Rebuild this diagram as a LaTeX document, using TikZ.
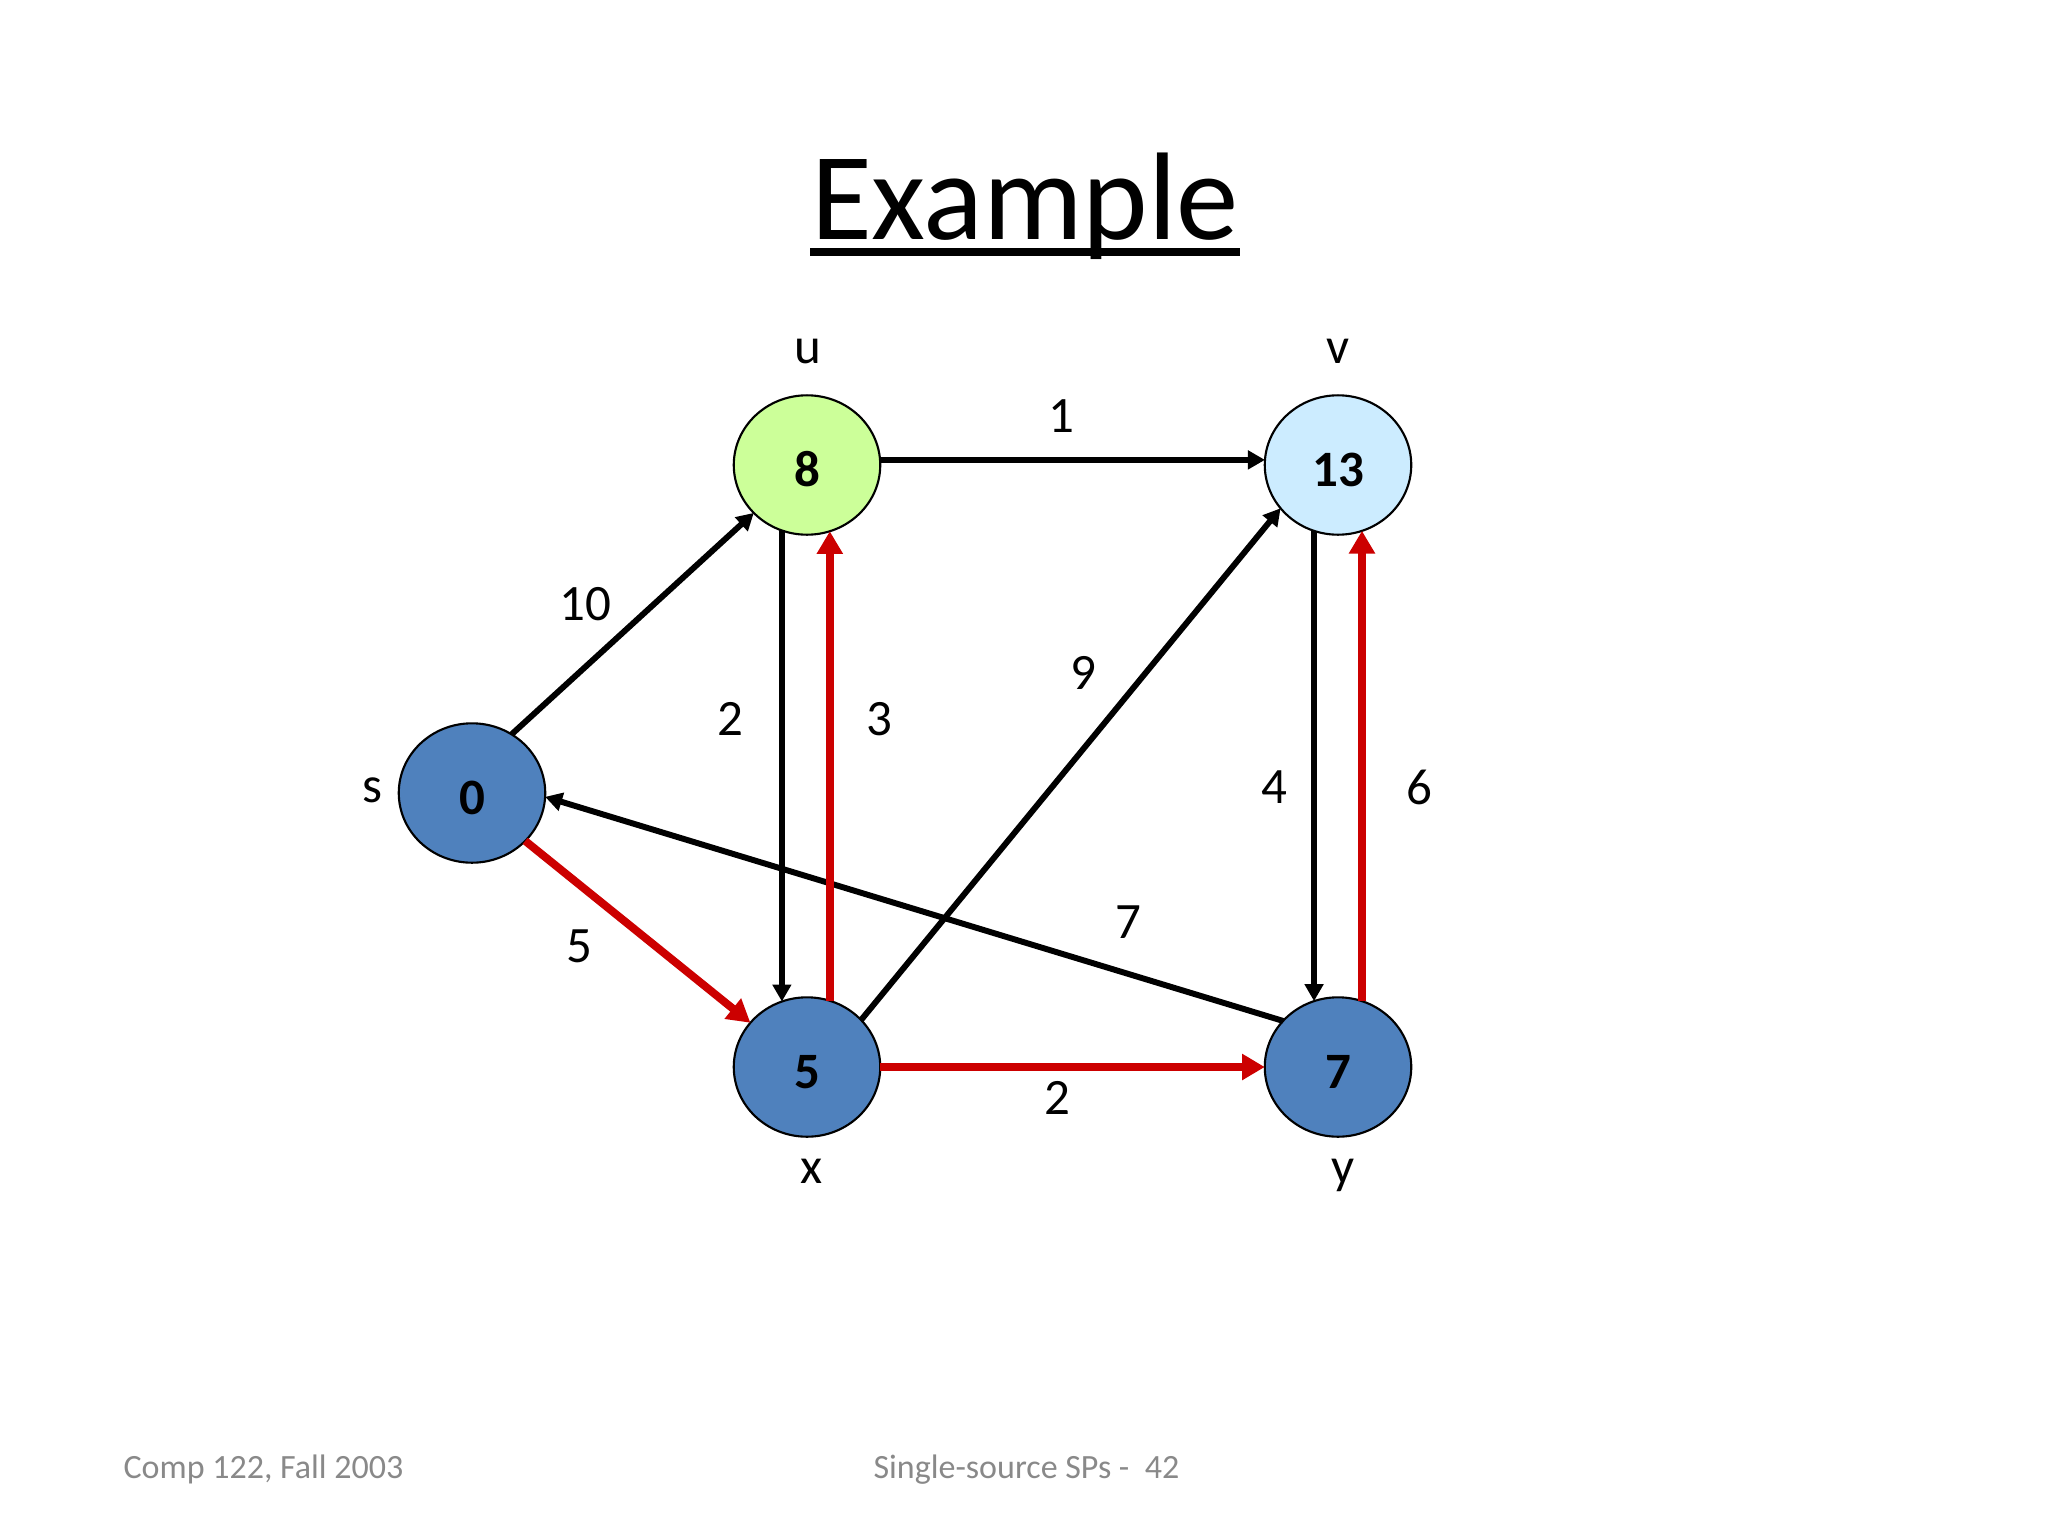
\documentclass[tikz,border=0pt]{standalone}
\usepackage{fontspec}
\setmainfont{Carlito}
\usetikzlibrary{shapes.geometric,arrows.meta}

\definecolor{nodeblue}{RGB}{79,129,189}
\definecolor{nodegreen}{RGB}{204,255,153}
\definecolor{nodesky}{RGB}{204,236,255}
\definecolor{pathred}{RGB}{204,0,0}
\definecolor{footgray}{RGB}{137,137,137}

\tikzset{
  vertex/.style={ellipse,draw=black,line width=0.75pt,minimum width=51.7pt,minimum height=49.2pt,
    inner sep=0pt,outer sep=0pt,text height=14.9pt,text depth=0pt,font=\fontsize{18}{22}\selectfont\bfseries},
  vlbl/.style={inner sep=0pt,anchor=base,font=\fontsize{18}{22}\selectfont},
  wt/.style={inner sep=0pt,font=\fontsize{18}{22}\selectfont},
  plain/.style={line width=2.1pt,-{Triangle[length=6pt,width=6.4pt]}},
  sptree/.style={line width=2.8pt,draw=pathred,-{Triangle[length=8pt,width=8.8pt]}},
  foot/.style={inner sep=0pt,anchor=base west,text=footgray,font=\fontsize{12}{14}\selectfont}
}

\begin{document}
\begin{tikzpicture}[x=0.0124023cm,y=-0.0124023cm]
\useasboundingbox (0,0) rectangle (2048,1536);

% title
\node[inner sep=0pt,anchor=base,font=\fontsize{44}{52}\selectfont] (title) at (1025,239) {Example};
\draw[line width=2.8pt] ([yshift=-4.6pt]title.base west) -- ([yshift=-4.6pt]title.base east);

% vertices
\node[vertex,fill=nodeblue] (s) at (472,793) {0};
\node[vertex,fill=nodegreen] (u) at (807,465) {8};
\node[vertex,fill=nodesky] (v) at (1338,465) {13};
\node[vertex,fill=nodeblue] (x) at (807,1067) {5};
\node[vertex,fill=nodeblue] (y) at (1338,1067) {7};

% vertex names
\node[vlbl] (sname) at (372,802) {s};
\node[vlbl] (uname) at (808,363) {u};
\node[vlbl] (vname) at (1338,363) {v};
\node[vlbl] (xname) at (812,1183) {x};
\node[vlbl] (yname) at (1343,1183) {y};

% edges
\draw[plain] (s.56) -- (u.222);
\draw[plain] (u.4) -- (v.176);
\draw[plain] (u.249) -- (x.111);
\draw[plain] (v.250) -- (y.110);
\draw[plain] (x.41) -- (v.217);
\draw[plain] (y.140) -- (s.357);
\draw[sptree] (x.71) -- (u.289);
\draw[sptree] (y.70) -- (v.290);
\draw[sptree] (s.318) -- (x.142);
\draw[sptree] (x) -- (y);

% weights
\node[wt] (wsu) at (585,604) {10};
\node[wt] (wuv) at (1061,416) {1};
\node[wt] (wux) at (730,719) {2};
\node[wt] (wxu) at (879,719) {3};
\node[wt] (wxv) at (1083,673) {9};
\node[wt] (wvy) at (1274,787) {4};
\node[wt] (wyv) at (1419,787) {6};
\node[wt] (wys) at (1128,922) {7};
\node[wt] (wsx) at (579,946) {5};
\node[wt] (wxy) at (1057,1098) {2};

% footer
\node[foot] (course) at (123,1478) {Comp 122, Fall 2003};
\node[foot] (slide) at (873,1478) {Single-source SPs -\ \ 42};
\end{tikzpicture}
\end{document}
